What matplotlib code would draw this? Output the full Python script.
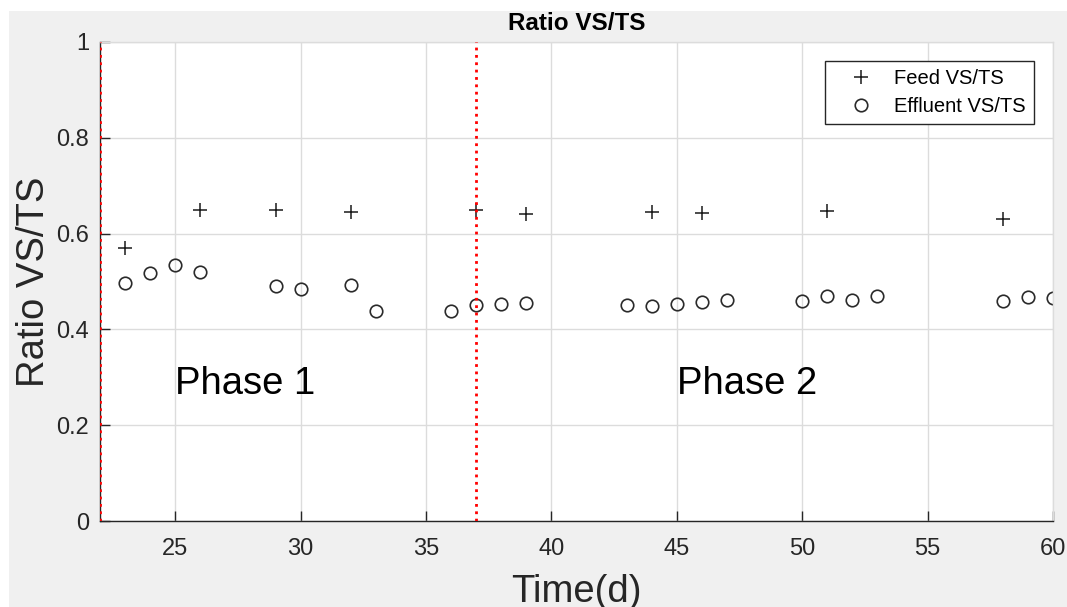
import matplotlib
matplotlib.use("Agg")
from matplotlib import pyplot as plt
from matplotlib.patches import Rectangle

plt.rcParams['font.family'] = ['Liberation Sans', 'DejaVu Sans']

# Feed VS/TS (+)
feed_dag = [23, 26, 29, 32, 37, 39, 44, 46, 51, 58]
feed_ratio = [0.570, 0.649, 0.649, 0.646, 0.649, 0.640, 0.645, 0.642, 0.648, 0.631]

# Effluent VS/TS (o)
eff_dag = [23, 24, 25, 26, 29, 30, 32, 33, 36, 37, 38, 39,
           43, 44, 45, 46, 47, 50, 51, 52, 53, 58, 59, 60]
eff_ratio = [0.497, 0.518, 0.534, 0.520, 0.490, 0.484, 0.493, 0.438, 0.438, 0.451, 0.453, 0.455,
             0.451, 0.449, 0.454, 0.457, 0.461, 0.459, 0.470, 0.461, 0.470, 0.460, 0.468, 0.466]

# fase grenzen
fase_grens = [22, 37]
fase_tekst = ['Phase 1', 'Phase 2']
fase_x = [25, 45]

xticks = [25, 30, 35, 40, 45, 50, 55, 60]
yticks = [0, 0.2, 0.4, 0.6, 0.8, 1]
yticklabels = ['0', '0.2', '0.4', '0.6', '0.8', '1']

grijs = '#f0f0f0'
tekstkleur = '#262626'
gridkleur = '#dcdcdc'

fig = plt.figure(figsize=(10.67, 6.07), dpi=100, facecolor='white')
# grijze achtergrond met witte rand links/boven
fig.patches.append(Rectangle((9 / 1067, -0.5), 2, 1.5 - 11 / 607, transform=fig.transFigure,
                             facecolor=grijs, edgecolor='none', zorder=-10))

ax = fig.add_axes([100 / 1067, 1 - 521 / 607, 953 / 1067, 479 / 607])
ax.set_facecolor('white')

ax.grid(True, color=gridkleur, linewidth=1)
ax.set_axisbelow(True)

ax.plot(feed_dag, feed_ratio, linestyle='none', marker='+', markersize=9.5,
        markeredgewidth=1.1, color='#1a1a1a', label='Feed VS/TS')
ax.plot(eff_dag, eff_ratio, linestyle='none', marker='o', markersize=9,
        markeredgewidth=1.2, markerfacecolor='none', markeredgecolor='#2a2a2a',
        label='Effluent VS/TS')

for g in fase_grens:
    ax.axvline(g, color='red', linestyle=':', linewidth=2, zorder=5)

for x, t in zip(fase_x, fase_tekst):
    ax.text(x, 0.265, t, fontsize=27.5, color='black', va='baseline', ha='left')

ax.set_xlim(22, 60)
ax.set_ylim(0, 1)
ax.set_xticks(xticks)
ax.set_yticks(yticks)
ax.set_yticklabels(yticklabels)

ax.tick_params(direction='in', length=7, width=1, color=tekstkleur,
               labelcolor=tekstkleur, labelsize=17)
ax.tick_params(axis='x', pad=12)
ax.tick_params(axis='y', pad=8)

for s in ['left', 'bottom']:
    ax.spines[s].set_color(tekstkleur)
    ax.spines[s].set_linewidth(1)
for s in ['top', 'right']:
    ax.spines[s].set_color(gridkleur)
    ax.spines[s].set_linewidth(1)

ax.set_xlabel('Time(d)', fontsize=27.5, color=tekstkleur)
ax.set_ylabel('Ratio VS/TS', fontsize=27.5, color=tekstkleur)
ax.xaxis.set_label_coords(0.5, -0.11)
ax.yaxis.set_label_coords(-0.05, 0.5)

ax.set_title('Ratio VS/TS', fontsize=17.5, fontweight='bold', color='black', pad=8.5)

leg = ax.legend(loc='upper right', bbox_to_anchor=(1 - 19 / 953, 1 - 19 / 479),
                borderaxespad=0, fontsize=14.5, handlelength=2.8, handletextpad=0.25,
                borderpad=0.4, labelspacing=0.45, fancybox=False, framealpha=1,
                edgecolor='#262626')
leg.get_frame().set_linewidth(1)

plt.savefig('out.png', dpi=100, facecolor=fig.get_facecolor())
